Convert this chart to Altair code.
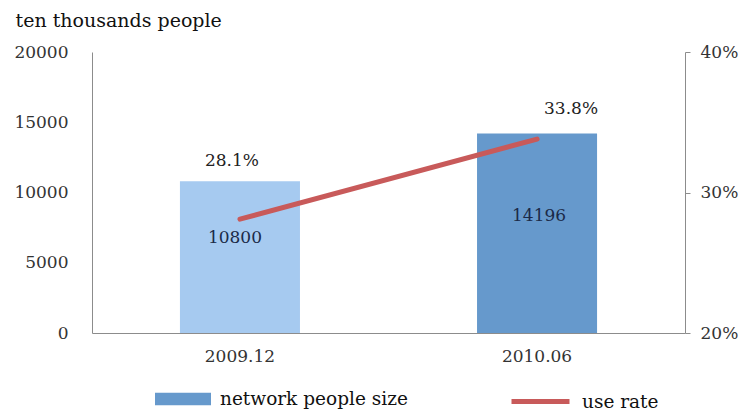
import altair as alt
import pandas as pd

# ---- data ----
periods = ["2009.12", "2010.06"]
netizens = [10800, 14196]          # ten thousands people
use_rate = [28.1, 33.8]            # percent
bar_colors = ["#A6CAF0", "#6699CC"]
line_color = "#C85A5A"
left_ticks = [0, 5000, 10000, 15000, 20000]
right_ticks = [20, 30, 40]
bar_series = "network people size"
line_series = "use rate"
y_title = "ten thousands people"

df = pd.DataFrame({
    "period": periods,
    "size": netizens,
    "rate": use_rate,
    "bar_series": [bar_series] * len(periods),
    "line_series": [line_series] * len(periods),
})

FONT = "DejaVu Serif"
FS_NUM = 17
FS_TXT = 18.5
AXIS_GRAY = "#8c8c8c"
W, H = 593, 281

x_enc = alt.X(
    "period:N", sort=periods,
    scale=alt.Scale(paddingInner=0.596, paddingOuter=0.296),
    axis=alt.Axis(title=None, labelAngle=0, ticks=False, labelPadding=15,
                  domainColor=AXIS_GRAY, labelFont=FONT, labelFontSize=FS_NUM,
                  labelColor="#333333"),
)

size_scale = alt.Scale(domain=[0, 20000])
rate_scale = alt.Scale(domain=[20, 40])

left_axis = alt.Axis(values=left_ticks, format="d", grid=False, ticks=False, labelPadding=24,
                     domainColor=AXIS_GRAY, labelFont=FONT, labelFontSize=FS_NUM,
                     labelColor="#333333",
                     title=y_title, titleAngle=0, titleAlign="left",
                     titleBaseline="middle", titleX=-77, titleY=-32,
                     titleFont=FONT, titleFontSize=19, titleFontWeight="normal",
                     titleColor="#111111")
right_axis = alt.Axis(orient="right", values=right_ticks, labelExpr="datum.value + '%'",
                      grid=False, tickSize=5, tickColor=AXIS_GRAY, domainColor=AXIS_GRAY,
                      labelPadding=10, labelFont=FONT, labelFontSize=FS_NUM,
                      labelColor="#333333", title=None)

base = alt.Chart(df)

bars = base.mark_bar().encode(
    x=x_enc,
    y=alt.Y("size:Q", scale=size_scale, axis=left_axis),
    fill=alt.condition(
        f"datum.period == '{periods[0]}'",
        alt.value(bar_colors[0]),
        alt.Fill("bar_series:N",
                 scale=alt.Scale(domain=[bar_series], range=[bar_colors[1]]),
                 legend=alt.Legend(title=None, orient="none", legendX=63, legendY=319,
                                   symbolType="M-1,-0.22H1V0.22H-1Z", symbolSize=3136,
                                   symbolStrokeWidth=0, labelFont=FONT, labelFontSize=FS_TXT,
                                   labelColor="#111111", labelOffset=9, labelLimit=400,
                                   padding=0)),
    ),
)

value_offsets = {periods[0]: (-5, 57), periods[1]: (2, 82)}
value_texts = []
for p, (ddx, ddy) in value_offsets.items():
    value_texts.append(
        base.transform_filter(f"datum.period == '{p}'")
        .mark_text(font=FONT, fontSize=FS_NUM, color="#1B2A48", dx=ddx, dy=ddy, baseline="middle")
        .encode(x=x_enc, y=alt.Y("size:Q", scale=size_scale, axis=left_axis), text="size:Q")
    )

line = base.mark_line(strokeWidth=5, strokeCap="round").encode(
    x=x_enc,
    y=alt.Y("rate:Q", scale=rate_scale, axis=right_axis),
    stroke=alt.Stroke("line_series:N",
                      scale=alt.Scale(domain=[line_series], range=[line_color]),
                      legend=alt.Legend(title=None, orient="none", legendX=417, legendY=318,
                                        symbolType="stroke", symbolSize=3364,
                                        symbolStrokeWidth=5, labelFont=FONT,
                                        labelFontSize=FS_TXT, labelColor="#111111",
                                        labelOffset=10, labelLimit=400, padding=0)),
)

rate_offsets = {periods[0]: (-8, -58), periods[1]: (34, -30)}
rate_texts = []
for p, (ddx, ddy) in rate_offsets.items():
    rate_texts.append(
        base.transform_filter(f"datum.period == '{p}'")
        .transform_calculate(label="format(datum.rate, '.1f') + '%'")
        .mark_text(font=FONT, fontSize=FS_NUM, color="#222222", dx=ddx, dy=ddy, baseline="middle")
        .encode(x=x_enc, y=alt.Y("rate:Q", scale=rate_scale, axis=right_axis), text="label:N")
    )

left = alt.layer(bars, *value_texts)
right = alt.layer(line, *rate_texts)

chart = (
    alt.layer(left, right)
    .resolve_scale(y="independent")
    .properties(width=W, height=H, autosize="none",
                padding={"left": 84, "top": 44, "right": 57, "bottom": 78})
    .configure_view(stroke=None)
)

chart.save("out.html", embed_options={"renderer": "svg", "actions": False})
